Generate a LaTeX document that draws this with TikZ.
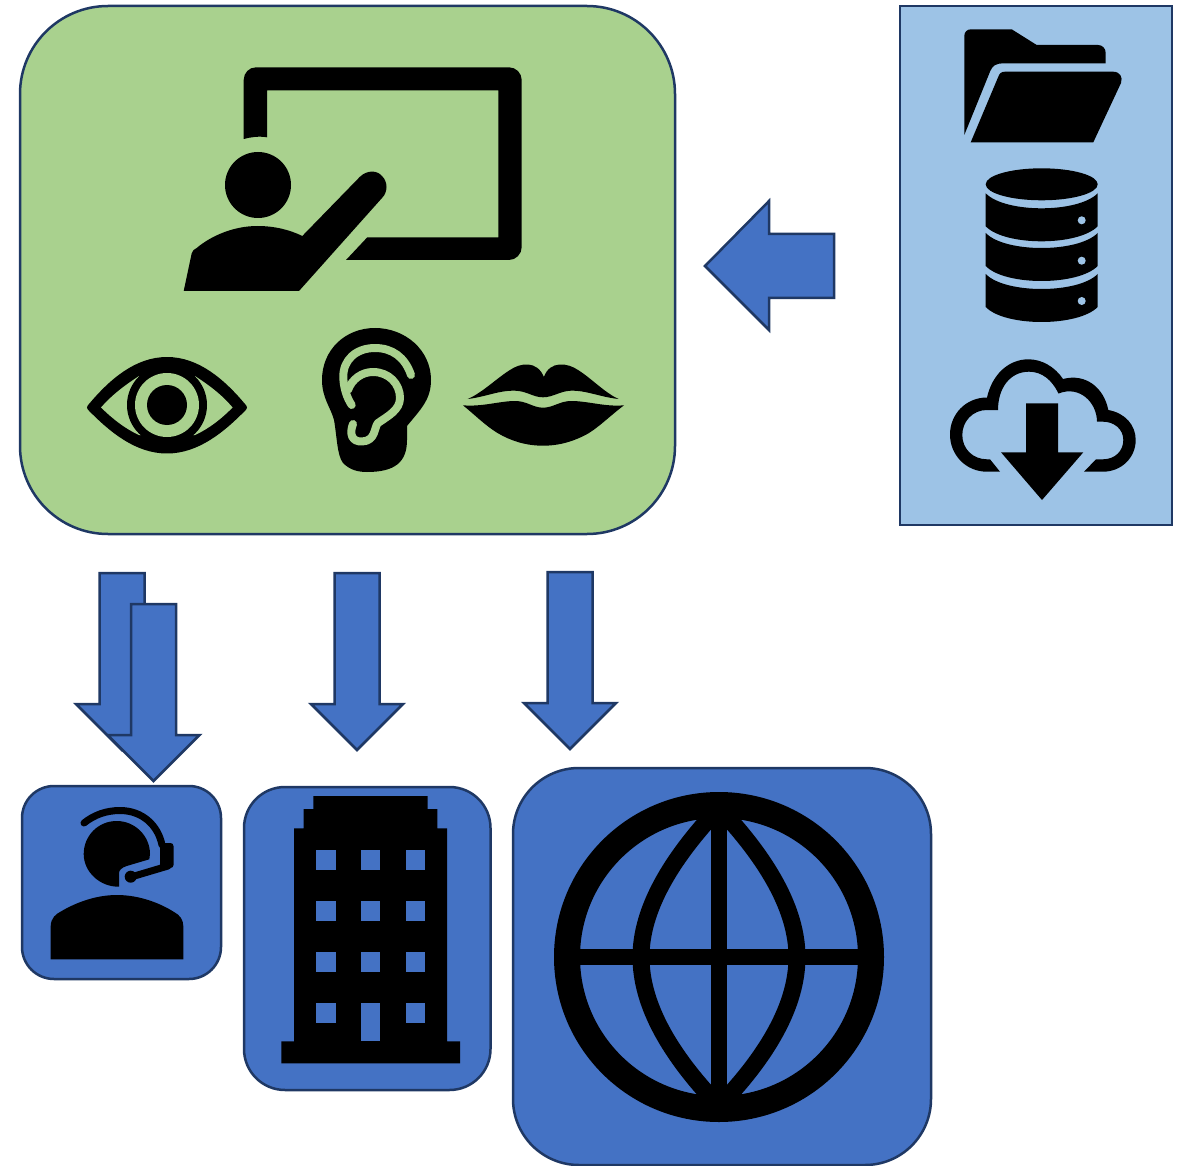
\documentclass[tikz,border=0pt]{standalone}
\usepackage{tikz}
\definecolor{panelgreen}{HTML}{A9D18E}
\definecolor{panelsky}{HTML}{9DC3E6}
\definecolor{panelblue}{HTML}{4472C4}
\definecolor{paneledge}{HTML}{1F3864}
\tikzset{
    panel/.style={draw=paneledge,line width=2.5pt},
    blockarrow/.style={panel,fill=panelblue,miter limit=10},
    icon/.style={fill=black},
    earline/.style={draw=panelgreen,line width=8pt,line cap=round,line join=round},
}
\newcommand{\downblock}[2]{%
    \draw[blockarrow] ({#1-22.5},#2) -- ({#1+22.5},#2) -- ({#1+22.5},{#2+131}) -- ({#1+46},{#2+131})
        -- (#1,{#2+177}) -- ({#1-46},{#2+131}) -- ({#1-22.5},{#2+131}) -- cycle;}

\begin{document}
\begin{tikzpicture}[x=1pt,y=-1pt]
    \useasboundingbox (0,0) rectangle (1178,1166);

    \draw[panel,fill=panelgreen,rounded corners=88pt] (20,6) rectangle (675,534);
    \draw[panel,fill=panelsky] (900,6) rectangle (1172,525);
    \draw[panel,fill=panelblue,rounded corners=32pt] (22,786) rectangle (221,979);
    \draw[panel,fill=panelblue,rounded corners=41pt] (244,787) rectangle (490.5,1090);
    \draw[panel,fill=panelblue,rounded corners=66pt] (513,768) rectangle (931,1165);

    \draw[blockarrow] (705,266) -- (769,201) -- (769,234) -- (834,234) -- (834,298) -- (769,298) -- (769,330) -- cycle;
    \downblock{122}{573}
    \downblock{153.5}{604}
    \downblock{357}{573}
    \downblock{570}{572}

    % teacher
    \fill[icon] (243.7,139) -- (243.7,80) .. controls (243.7,73) and (249,67.3) .. (256,67.3) -- (509,67.3)
        .. controls (516,67.3) and (521.7,73) .. (521.7,80) -- (521.7,247) .. controls (521.7,254) and (516,260) .. (509,260)
        -- (346,260) -- (367.3,237.3) -- (498.3,237.3) -- (498.3,90.3) -- (267,90.3) -- (267,137.3)
        .. controls (259,136) and (251,137) .. (243.7,139) -- cycle;
    \fill[icon] (258,185) circle (33);
    \fill[icon] (183.7,291) -- (191.7,253.3) .. controls (192.5,250.5) and (194,249.5) .. (196.7,248)
        .. controls (212,235) and (235,226) .. (257.3,226) .. controls (275,226) and (290,230) .. (302.3,236)
        -- (360,176.7) .. controls (367,170) and (377,170) .. (382,176) .. controls (388,182) and (388,192) .. (382,198)
        -- (299,291) -- cycle;

    % eye
    \draw[icon,draw=black,line width=6pt,line join=round] (90,407.5) .. controls (112,381) and (137,360) .. (167,360)
        .. controls (197,360) and (222,381) .. (244,407.5) .. controls (222,430) and (197,450.5) .. (167,450.5)
        .. controls (137,450.5) and (112,430) .. (90,407.5) -- cycle;
    \fill[panelgreen] (101,407.5) .. controls (113,394) and (124,386) .. (139,376) -- (195,376)
        .. controls (210,386) and (221,394) .. (232.6,407.5) .. controls (221,419) and (210,428) .. (195,435)
        -- (139,435) .. controls (124,428) and (113,419) .. (101,407.5) -- cycle;
    \fill[icon] (167,405) circle (40);
    \fill[panelgreen] (167,405) circle (32);
    \fill[icon] (167,405) circle (20);

    % ear
    \fill[icon] (375,328) .. controls (345,328) and (322,350) .. (322,380) .. controls (322,398) and (331,408) .. (334,420)
        .. controls (337,437) and (337,455) .. (343,463) .. controls (350,470) and (358,472) .. (367,472)
        .. controls (395,472) and (407,462) .. (407,440) -- (407,426) .. controls (420,410) and (431,400) .. (431,380)
        .. controls (431,350) and (405,328) .. (375,328) -- cycle;
    \draw[earline] (411,375) .. controls (405,357) and (392,348) .. (375,348) .. controls (356,348) and (343,360) .. (343.3,377)
        .. controls (343.5,388) and (347,398) .. (351.7,405);
    \draw[earline] (348,390) .. controls (352,379) and (362,372) .. (373,372) .. controls (389,372) and (400,384) .. (400,398)
        .. controls (400,410) and (388,416) .. (378,423) .. controls (374,427) and (376,441) .. (362,441.5)
        .. controls (352,442) and (349,434) .. (353,424);

    % lips
    \fill[icon] (467.7,399) .. controls (482,393) and (497,378) .. (510,370) .. controls (520,363) and (537,360) .. (543.9,377)
        .. controls (550,360) and (568,363) .. (578,370) .. controls (591,378) and (605,393) .. (618.6,399)
        .. controls (600,397) and (585,390) .. (571,390.7) .. controls (560,391) and (553,397.3) .. (543,397.3)
        .. controls (533,397.3) and (527,391) .. (515,390.7) .. controls (500,390) and (485,397) .. (467.7,399) -- cycle;
    \fill[icon] (463,405.3) .. controls (482,407) and (500,401) .. (515,401) .. controls (527,401) and (533,407.7) .. (543,407.7)
        .. controls (553,407.7) and (560,401) .. (571,401) .. controls (588,401) and (605,407) .. (624,405.3)
        .. controls (610,416) and (600,426) .. (589,433) .. controls (575,441) and (560,445.7) .. (543,445.7)
        .. controls (526,445.7) and (511,441) .. (497.5,433) .. controls (486,426) and (476,416) .. (463,405.3) -- cycle;

    % folder
    \fill[icon] (964.3,135) -- (964.3,36) .. controls (964.3,32) and (967,29.3) .. (971,29.3) -- (1011.7,29.3) -- (1036.7,45)
        -- (1098,45) .. controls (1102.5,45) and (1105.7,48.5) .. (1105.7,53) -- (1105.7,63.3) -- (1003,63.3)
        .. controls (996,63.3) and (992,66) .. (990,71.7) -- cycle;
    \fill[icon] (970.7,142.3) -- (998.3,76.7) .. controls (999.5,73.5) and (1001,71.7) .. (1005,71.7) -- (1113,71.7)
        .. controls (1120,71.7) and (1123,77) .. (1121,83) -- (1093.3,142.3) -- cycle;

    % database
    \fill[icon] (1041.7,184.3) ellipse (56 and 16);
    \foreach \y in {193.3,233,274}
        \fill[icon] (985.7,\y) .. controls (1005,{\y+20}) and (1078,{\y+20}) .. (1097.7,\y) -- (1097.7,{\y+33})
            .. controls (1078,{\y+53}) and (1005,{\y+53}) .. (985.7,{\y+33}) -- cycle;
    \foreach \y in {220.3,260.7,301}
        \fill[panelsky] (1081.7,\y) circle (4);

    % cloud
    \fill[icon] (1000,471.7) -- (987,471.7) .. controls (966,471.7) and (950,455) .. (950,434.5)
        .. controls (950,414) and (966,397.5) .. (987,397.5) .. controls (992,375) and (1008,359.3) .. (1028.5,359.3)
        .. controls (1042,359.3) and (1055,367) .. (1063,379) .. controls (1086,373) and (1104,388) .. (1108.3,410)
        .. controls (1125,413) and (1135.7,425) .. (1135.7,440) .. controls (1135.7,458) and (1121,471.7) .. (1103,471.7)
        -- (1084,471.7) -- (1096,459.3) -- (1103,459.3) .. controls (1115,459.3) and (1123.3,451) .. (1123.3,440)
        .. controls (1123.3,429) and (1114,421.7) .. (1103,421.7) -- (1097,421.7) .. controls (1097,403) and (1080,385) .. (1058.5,393.5)
        .. controls (1052,380) and (1042,371.7) .. (1029,371.7) .. controls (1010,371.7) and (998,388) .. (998,410)
        -- (987,410) .. controls (973,410) and (962.3,421) .. (962.3,435) .. controls (962.3,449) and (973,459.3) .. (987,459.3)
        -- (990,459.3) -- cycle;
    \fill[icon] (1026,403.3) -- (1058,403.3) -- (1058,452.3) -- (1083.3,452.3) -- (1042,500) -- (1001,452.3) -- (1026,452.3) -- cycle;

    % headset
    \fill[icon] (119,886.7) .. controls (100,887) and (83.7,872) .. (83.7,854) .. controls (83.7,836) and (98,821) .. (116.7,821)
        .. controls (135,821) and (150,836) .. (150,854) -- (149.3,859.3) -- (126.7,866) .. controls (122,867.5) and (119,870) .. (119,873.3) -- cycle;
    \draw[line width=7pt,line cap=round] (84,823) .. controls (94,815) and (106,810.5) .. (120,810.5) .. controls (142,810.5) and (158,825) .. (162,845);
    \fill[icon,rounded corners=3pt] (160,843) rectangle (173.5,868);
    \draw[line width=7pt,line cap=round] (131,877) -- (168,866);
    \fill[icon] (130.7,876.7) circle (6);
    \fill[icon] (50.7,959.3) -- (50.7,926) .. controls (51,918) and (56,914) .. (60,912) .. controls (75,903) and (95,895) .. (117,895)
        .. controls (139,895) and (160,903) .. (174,912) .. controls (180,915) and (183.3,920) .. (183.3,926) -- (183.3,959.3) -- cycle;

    % building
    \fill[icon] (313.3,796) -- (427.7,796) -- (427.7,809) -- (437.3,809) -- (437.3,828.3) -- (447,828.3) -- (447,1041.3) -- (460,1041.3)
        -- (460,1063.3) -- (281.3,1063.3) -- (281.3,1041.3) -- (294,1041.3) -- (294,828.3) -- (303.7,828.3) -- (303.7,809) -- (313.3,809) -- cycle;
    \foreach \x in {316.3,361,405.7}
        \foreach \y in {850.3,901.3,952.3,1003.3}
            \fill[panelblue] (\x,\y) rectangle +(19.4,19.2);
    \fill[panelblue] (361,1003.3) rectangle (380.4,1041.3);

    % globe
    \draw[line width=26pt] (719,957) circle (152);
    \draw[line width=16pt] (719,805) -- (719,1109) (567,957) -- (871,957);
    \draw[line width=17pt,line join=round] (719,808) .. controls (670,860) and (641,910) .. (641,957) .. controls (641,1005) and (670,1055) .. (719,1106)
        .. controls (768,1055) and (797,1005) .. (797,957) .. controls (797,910) and (768,860) .. (719,808) -- cycle;
\end{tikzpicture}
\end{document}
